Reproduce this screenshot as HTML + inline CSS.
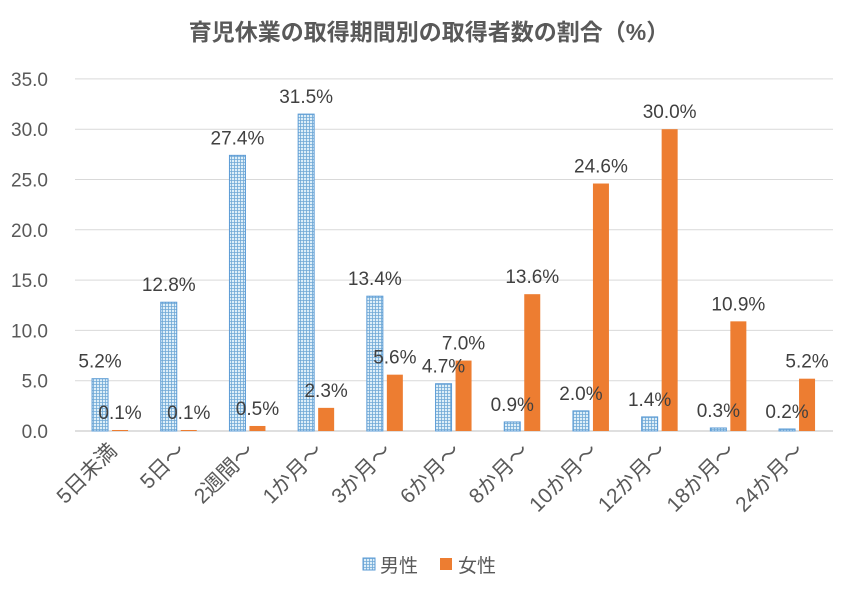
<!DOCTYPE html>
<html><head><meta charset="utf-8"><style>
body{margin:0;background:#fff;}
svg{display:block;font-family:"Liberation Sans","Noto Sans CJK JP",sans-serif;}
</style></head><body>
<svg id="chart" width="858" height="599" viewBox="0 0 858 599">
<defs>
<pattern id="grid" width="3" height="3" patternUnits="userSpaceOnUse">
<rect width="3" height="3" fill="#ddeef8"/>
<path d="M0 0.5H3M0.5 0V3" stroke="#6fa8d6" stroke-width="0.8"/>
</pattern>
</defs>
<text x="429" y="40" text-anchor="middle" font-size="23" font-weight="bold" fill="#595959">育児休業の取得期間別の取得者数の割合（%）</text>
<g id="axes"></g>
<g id="bars"></g>
<g id="legend">
<rect x="363" y="558" width="12" height="12" fill="url(#grid)" stroke="#5b9bd5"/>
<text x="380" y="572" font-size="19" fill="#595959">男性</text>
<rect x="440" y="558" width="12" height="12" fill="#ed7d31"/>
<text x="458" y="572" font-size="19" fill="#595959">女性</text>
</g>
</svg>
<script>
const categories=["5日未満","5日～","2週間～","1か月～","3か月～","6か月～","8か月～","10か月～","12か月～","18か月～","24か月～"];
const male=[5.2,12.8,27.4,31.5,13.4,4.7,0.9,2.0,1.4,0.3,0.2];
const female=[0.1,0.1,0.5,2.3,5.6,7.0,13.6,24.6,30.0,10.9,5.2];
const yTicks=[0,5,10,15,20,25,30,35];
const NS="http://www.w3.org/2000/svg";
const x0=75.7,step=68.7,yBase=431,yPer=10.06,bw=16;
const y=v=>yBase-v*yPer;
const cx=i=>x0+step*(i+0.5);
function mk(t,a,p){const e=document.createElementNS(NS,t);for(const k in a)e.setAttribute(k,a[k]);p.appendChild(e);return e;}
const axes=document.getElementById('axes'),bars=document.getElementById('bars');
yTicks.forEach(v=>{
 const l=mk('line',{x1:75,x2:833,y1:y(v),y2:y(v),stroke:v===0?'#bfbfbf':'#d9d9d9','stroke-width':1},axes);
 
 
 const t=mk('text',{x:48,y:y(v)+7,'text-anchor':'end','font-size':19,fill:'#595959'},axes);
 t.textContent=v.toFixed(1);
 
 
});
categories.forEach((c,i)=>{
 const t=mk('text',{x:0,y:0,'text-anchor':'end','font-size':21,fill:'#595959',transform:`translate(${cx(i)+8},${452}) rotate(-45)`},axes);
 t.textContent=c;
 
 
 const mx=cx(i)-bw-2, fx=cx(i)+2;
 const mb=mk('rect',{x:mx,y:y(male[i]),width:bw,height:male[i]*yPer,fill:'url(#grid)',stroke:'#5b9bd5','stroke-width':1},bars);
 
 
 const fb=mk('rect',{x:fx,y:y(female[i]),width:bw,height:female[i]*yPer,fill:'#ed7d31'},bars);
 
 
 const ml=mk('text',{x:mx+bw/2,y:y(male[i])-11,'text-anchor':'middle','font-size':19,fill:'#404040'},bars);
 ml.textContent=male[i].toFixed(1)+'%';
 
 
 const fl=mk('text',{x:fx+bw/2,y:y(female[i])-11,'text-anchor':'middle','font-size':19,fill:'#404040'},bars);
 fl.textContent=female[i].toFixed(1)+'%';
 
 
});
</script>
</body></html>
